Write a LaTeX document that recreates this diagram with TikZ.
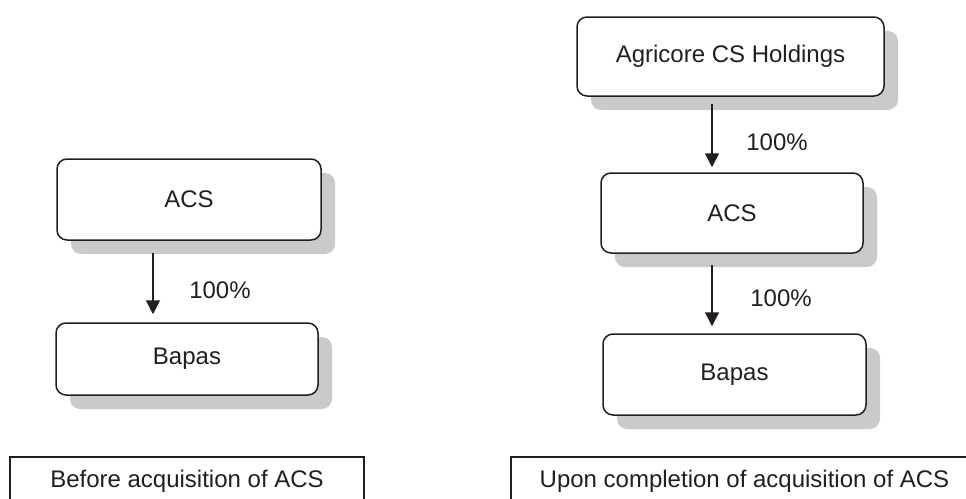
\documentclass[tikz,border=0pt]{standalone}
\usepackage{fontspec}
\setmainfont{Liberation Sans}
\usetikzlibrary{shadows,arrows.meta}
\definecolor{ink}{HTML}{231F20}
\definecolor{shade}{HTML}{C9CACC}
\tikzset{
  entity/.style={draw=ink, line width=1.5pt, rounded corners=10pt, fill=white,
    text=ink, font=\fontsize{24}{29}\selectfont, inner sep=0pt,
    drop shadow={shadow xshift=14pt, shadow yshift=-14pt, fill=shade, opacity=1}},
  caption/.style={draw=ink, line width=1.2pt, fill=white, text=ink},
  captext/.style={text=ink, font=\fontsize{24}{29}\selectfont, inner sep=0pt},
  pct/.style={text=ink, font=\fontsize{24}{29}\selectfont, inner sep=0pt},
  arr/.style={draw=ink, line width=1.5pt, -{Triangle[width=14pt,length=14pt]}}
}
\begin{document}
\begin{tikzpicture}[x=1pt,y=-1pt]
\useasboundingbox (0,0) rectangle (966,498);
\clip (0,0) rectangle (966,498);
% left
\node[entity, minimum width=264pt, minimum height=81pt] (lacs) at (189,199.5) {ACS};
\node[entity, minimum width=262pt, minimum height=72pt] (lbap) at (187,359) {Bapas};
\coordinate (lax) at (153,0);
\draw[arr] ([yshift=-12pt]lacs.south -| lax) -- ([yshift=8pt]lbap.north -| lax);
\node[pct] (lp) at (220,290) {100\%};
% right
\node[entity, minimum width=307pt, minimum height=79pt] (agri) at (730.5,56.5) {Agricore CS Holdings};
\node[entity, minimum width=262pt, minimum height=80pt] (racs) at (732,213) {ACS};
\node[entity, minimum width=263pt, minimum height=81pt] (rbap) at (734.5,374.5) {Bapas};
\coordinate (rax) at (712,0);
\draw[arr] ([yshift=-7pt]agri.south -| rax) -- ([yshift=5pt]racs.north -| rax);
\draw[arr] ([yshift=-11pt]racs.south -| rax) -- ([yshift=7pt]rbap.north -| rax);
\node[pct] (rp1) at (777,142) {100\%};
\node[pct] (rp2) at (781,298) {100\%};
% captions
\draw[caption] (10,457) rectangle (364,530);
\node[captext] (lcap) at (187,481) {Before acquisition of ACS};
\draw[caption] (511,457) rectangle (980,530);
\node[captext] (rcap) at (744.5,481) {Upon completion of acquisition of ACS};
\end{tikzpicture}
\end{document}
